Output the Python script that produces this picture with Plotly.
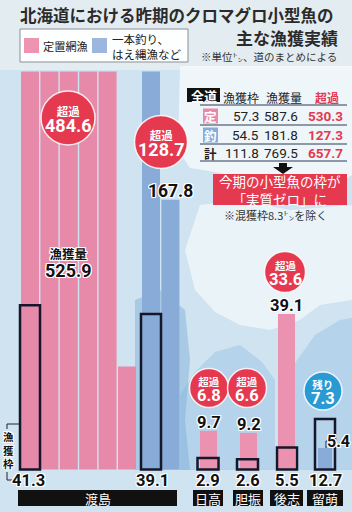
import plotly.graph_objects as go

# ---------------- data ----------------
regions = ["渡島", "日高", "胆振", "後志", "留萌"]
net_quota = [41.3, 2.9, 2.6, 5.5]          # 定置網漁 漁獲枠 (渡島, 日高, 胆振, 後志)
net_catch = [525.9, 9.7, 9.2, 39.1]        # 定置網漁 漁獲量
line_quota = [39.1, 12.7]                  # 一本釣り・はえ縄 漁獲枠 (渡島, 留萌)
line_catch = [167.8, 5.4]                  # 一本釣り・はえ縄 漁獲量
column_unit = 100                          # tall bars wrap every 100 t

table_rows = ["定", "釣", "計"]
table_quota = [57.3, 54.5, 111.8]
table_catch = [587.6, 181.8, 769.5]
table_excess = [530.3, 127.3, 657.7]

# ---------------- geometry helpers ----------------
W, H = 352, 512
BASE_PX, PPU = 469.5, 3.98
def X(p): return p / W
def Y(p): return 1 - p / H
def ypx(v): return BASE_PX - v * PPU

PINK = "#e78aa9"
PINK_L = "#ea92b0"
BLUE = "#88abd7"
RED = "#e5394f"
CBLUE = "#2a9ad5"
DARK = "#16172a"
JP = "Noto Sans CJK JP"
NUM = "Roboto, Noto Sans CJK JP"

def split(v):
    segs = []
    while v > column_unit:
        segs.append(column_unit)
        v = round(v - column_unit, 3)
    segs.append(v)
    return segs

fig = go.Figure()

net_segs = split(net_catch[0])
net_x = [30 + 19.4 * i for i in range(len(net_segs))]
line_segs = split(line_catch[0])
line_x = [151 + 19.4 * i for i in range(len(line_segs))]

small_x = [208.5, 248.5, 286.5]
fig.add_trace(go.Bar(x=net_x, y=net_segs, width=[18] * len(net_segs),
                     marker=dict(color=PINK, line=dict(width=0))))
fig.add_trace(go.Bar(x=small_x, y=net_catch[1:], width=[17] * 3,
                     marker=dict(color=PINK_L, line=dict(width=0))))
fig.add_trace(go.Bar(x=line_x, y=line_segs, width=[18] * len(line_segs),
                     marker=dict(color=BLUE, line=dict(width=0))))
fig.add_trace(go.Bar(x=[325], y=[line_catch[1]], width=[14],
                     marker=dict(color=BLUE, line=dict(width=0))))
# quota frames
fig.add_trace(go.Bar(x=[30, 208, 247.5, 287], y=net_quota, width=[20, 21, 21, 20],
                     marker=dict(color="rgba(0,0,0,0)", line=dict(color=DARK, width=2.5))))
fig.add_trace(go.Bar(x=[151, 325], y=line_quota, width=[20, 20],
                     marker=dict(color="rgba(0,0,0,0)", line=dict(color=DARK, width=2.5))))

shapes = []
ann = []

def rect(x0, y0, x1, y1, fill, line=None, lw=0, layer="above"):
    shapes.append(dict(type="rect", xref="paper", yref="paper",
                       x0=X(x0), x1=X(x1), y0=Y(y1), y1=Y(y0),
                       fillcolor=fill, line=dict(color=line or fill, width=lw), layer=layer))

def seg(x0, y0, x1, y1, color=DARK, w=1.2):
    shapes.append(dict(type="line", xref="paper", yref="paper",
                       x0=X(x0), x1=X(x1), y0=Y(y0), y1=Y(y1),
                       line=dict(color=color, width=w), layer="above"))

def path(pts, fill, layer="below"):
    d = "M " + " L ".join(f"{X(a):.4f},{Y(b):.4f}" for a, b in pts) + " Z"
    shapes.append(dict(type="path", xref="paper", yref="paper", path=d,
                       fillcolor=fill, line=dict(width=0), layer=layer))

def circle(cx, cy, r, fill):
    shapes.append(dict(type="circle", xref="paper", yref="paper",
                       x0=X(cx - r), x1=X(cx + r), y0=Y(cy + r), y1=Y(cy - r),
                       fillcolor=fill, line=dict(color="rgba(255,255,255,0.85)", width=1.5),
                       layer="above"))

OUT = "1px 1px 0 #fff, -1px -1px 0 #fff, 1px -1px 0 #fff, -1px 1px 0 #fff, 0 1px 0 #fff, 0 -1px 0 #fff, 1px 0 0 #fff, -1px 0 0 #fff"

def txt(x, y, s, size, color="#111", family=NUM, weight="bold", anchor="center", shadow=None):
    f = dict(family=family, size=size, color=color, weight=weight)
    if shadow:
        f["shadow"] = shadow
    ann.append(dict(x=X(x), y=Y(y), xref="paper", yref="paper", text=s, showarrow=False,
                    xanchor=anchor, yanchor="middle", font=f, borderpad=0))

def two_line(x, y, top, num, top_size, num_size, color, base, shadow=None):
    s = (f"<span style='font-size:{top_size}px'>{top}</span><br>"
         f"<span style='font-size:{num_size}px;font-family:Roboto;font-weight:bold'>{num}</span>")
    txt(x, y, s, base, color, JP, "bold", shadow=shadow)

# ---------------- background ----------------
rect(0, 0, 352, 70, "#e3ecf1", layer="below")
path([(180, 66), (352, 66), (352, 175), (330, 190), (300, 178), (260, 182), (215, 172), (190, 168), (178, 150)],
     "rgba(245,249,252,0.85)")
path([(200, 205), (240, 200), (290, 210), (352, 205), (352, 300), (320, 305), (300, 320), (270, 330),
      (240, 325), (215, 312), (195, 290), (185, 250)], "rgba(240,246,250,0.8)")
path([(180, 395), (195, 372), (215, 352), (240, 345), (262, 362), (275, 380), (275, 470), (180, 470)],
     "rgba(160,199,227,0.55)")
path([(290, 370), (315, 335), (340, 320), (352, 318), (352, 470), (290, 470)],
     "rgba(160,199,227,0.55)")
path([(135, 300), (160, 290), (185, 310), (190, 360), (185, 420), (190, 470), (135, 470)],
     "rgba(120,170,215,0.45)")

# ---------------- title & legend ----------------
txt(19, 15, "北海道における昨期のクロマグロ小型魚の", 16.5, "#2b2b2b", JP, "bold", "left")
txt(339, 37, "主な漁獲実績", 17, "#2b2b2b", JP, "bold", "right")
rect(20, 29, 188, 62, "rgba(255,255,255,0.92)", "#8a8f96", 1)
rect(24, 38, 39, 53, "#ee93b0")
txt(42, 46, "定置網漁", 11.2, "#222", JP, "normal", "left")
rect(92, 38, 107, 53, "#9db6dd")
txt(111, 38.5, "一本釣り、", 11.5, "#222", JP, "normal", "left")
txt(111, 53.5, "はえ縄漁など", 11.5, "#222", JP, "normal", "left")
txt(200, 56, "※単位㌧、道のまとめによる", 10.5, "#333", JP, "normal", "left")

# ---------------- 全道 table ----------------
rect(187, 88, 220, 102, "#111")
txt(203.5, 95, "全道", 13, "#fff", JP, "bold")
txt(241, 97, "漁獲枠", 12, "#222", JP, "normal")
txt(284, 97, "漁獲量", 12, "#222", JP, "normal")
txt(327, 97, "超過", 12, RED, JP, "bold")
row_y = [116, 135, 153]
row_bg = [PINK, BLUE, None]
for i, lab in enumerate(table_rows):
    yy = row_y[i]
    if row_bg[i]:
        rect(203, yy - 7.5, 218, yy + 7.5, row_bg[i])
        txt(210.5, yy, lab, 12.5, "#fff", JP, "bold")
    else:
        txt(210.5, yy, lab, 12.5, "#222", JP, "bold")
    txt(260, yy, f"{table_quota[i]:.1f}", 13.5, "#222", NUM, "normal", "right")
    txt(299, yy, f"{table_catch[i]:.1f}", 13.5, "#222", NUM, "normal", "right")
    txt(344, yy, f"{table_excess[i]:.1f}", 13.5, RED, NUM, "bold", "right")
for ly in [105, 125, 144, 161]:
    seg(200, ly, 347, ly, "#2c3a55", 1)

# arrow
path([(279, 163), (287, 163), (287, 167), (293, 167), (283, 174), (273, 167), (279, 167)], "#111", "above")
rect(213, 174, 347, 205, RED)
txt(280, 189.5, "今期の小型魚の枠が<br>「実質ゼロ」に", 13.5, "#fff", JP, "normal")
txt(275, 215, "※混獲枠8.3㌧を除く", 11, "#333", JP, "normal")

# ---------------- circles ----------------
excess = [round(c - q, 1) for c, q in zip(net_catch, net_quota)]
remain = round(line_quota[1] - line_catch[1], 1)
line_excess = round(line_catch[0] - line_quota[0], 1)

big = [(68, 118, 27, excess[0]), (161, 142, 26.5, line_excess)]
for cx, cy, r, v in big:
    circle(cx, cy, r, RED)
    two_line(cx, cy + 1, "超過", f"{v:.1f}", 11.5, 18, "#fff", 12.5)
small = [(209, 388, 19.5, excess[1]), (247, 388, 19.5, excess[2]), (285, 272, 20.5, excess[3])]
for cx, cy, r, v in small:
    circle(cx, cy, r, RED)
    two_line(cx, cy + 1, "超過", f"{v:.1f}", 10.5, 16.5, "#fff", 11.5)
circle(323, 391, 19, CBLUE)
two_line(323, 392, "残り", f"{remain:.1f}", 10.5, 16.5, "#fff", 11.5)

# ---------------- value labels ----------------
two_line(68, 262, "漁獲量", f"{net_catch[0]:.1f}", 12.5, 18, "#111", 13.5, shadow=OUT)
txt(170, 191, f"{line_catch[0]:.1f}", 17.5, "#111", NUM, "bold", shadow=OUT)
for xx, v in zip(small_x, net_catch[1:]):
    txt(xx, ypx(v) - 8, f"{v:.1f}", 16.5, "#111", NUM, "bold", shadow=OUT)
# 留萌 catch leader
fill_top = ypx(line_catch[1])
seg(326, fill_top, 326, fill_top - 7, "#222", 1)
seg(326, fill_top - 7, 332, fill_top - 7, "#222", 1)
txt(351, fill_top - 7, f"{line_catch[1]:.1f}", 16, "#111", NUM, "bold", "right", shadow=OUT)

# quota labels under bars
quota_lab_x = [28, 208, 248, 287]
for xx, v in zip(quota_lab_x, net_quota):
    txt(xx, 480, f"{v:.1f}", 16.5, "#111", NUM, "bold", shadow=OUT)
txt(152, 480, f"{line_quota[0]:.1f}", 16.5, "#111", NUM, "bold", shadow=OUT)
txt(325, 480, f"{line_quota[1]:.1f}", 16.5, "#111", NUM, "bold", shadow=OUT)

# 漁獲枠 bracket
seg(7, 424, 20, 424, "#222", 1)
seg(7, 424, 7, 429, "#222", 1)
seg(7, 472, 7, 480, "#222", 1)
seg(7, 480, 13, 480, "#222", 1)
txt(8, 450, "漁<br>獲<br>枠", 10.5, "#111", JP, "bold", shadow=OUT)

# region label boxes
boxes = [(18, 177), (193, 223), (233, 263), (270, 303), (307, 343)]
for (x0, x1), name in zip(boxes, regions):
    rect(x0, 490, x1, 506, "#111")
    txt((x0 + x1) / 2, 498, name, 13, "#fff", JP, "normal")

fig.update_layout(
    width=W, height=H, margin=dict(l=0, r=0, t=0, b=0),
    paper_bgcolor="#cfe3f1", plot_bgcolor="rgba(0,0,0,0)",
    barmode="overlay", showlegend=False, hovermode=False,
    xaxis=dict(range=[0, W], visible=False, fixedrange=True),
    yaxis=dict(range=[(BASE_PX - H) / PPU, BASE_PX / PPU], visible=False, fixedrange=True),
    shapes=shapes, annotations=ann,
)
fig.write_html("out.html", config={"displayModeBar": False, "staticPlot": True})
